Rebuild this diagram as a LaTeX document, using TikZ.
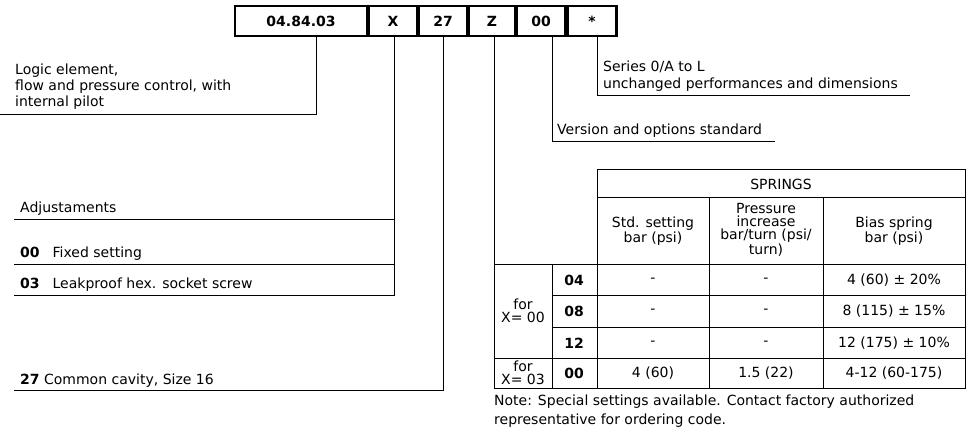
\documentclass[tikz,border=0pt]{standalone}
\usepackage{fontspec}
\setmainfont{DejaVu Sans}
\begin{document}
\begin{tikzpicture}[x=1pt,y=-1pt,
  txt/.style={anchor=base west,inner sep=0pt,font=\fontsize{14}{16}\selectfont},
  ctr/.style={inner sep=0pt,align=center,font=\fontsize{14}{13}\selectfont},
  codebox/.style={draw,line width=2.4pt,inner sep=0pt,font=\fontsize{14}{16}\selectfont\bfseries},
  lead/.style={line width=0.8pt},
  grid/.style={line width=0.8pt}]
\useasboundingbox (0,0) rectangle (977,438);
% code boxes
\node[codebox,minimum width=132pt,minimum height=30pt] (b1) at (301,21) {04.84.03};
\node[codebox,minimum width=48pt,minimum height=30pt] (b2) at (393,21) {X};
\node[codebox,minimum width=48pt,minimum height=30pt] (b3) at (443,21) {27};
\node[codebox,minimum width=46pt,minimum height=30pt] (b4) at (492,21) {Z};
\node[codebox,minimum width=48pt,minimum height=30pt] (b5) at (541,21) {00};
\node[codebox,minimum width=49pt,minimum height=30pt] (b6) at (592,21) {*};
% labels
\node[txt] (t1) at (15,75) {Logic element,};
\node[txt] at (15,91) {flow and pressure control, with};
\node[txt] at (15,107) {internal pilot};
\node[txt] (t2) at (603,72) {Series 0/A to L};
\node[txt] at (603,89) {unchanged performances and dimensions};
\node[txt] (t3) at (557,135) {Version and options standard};
\node[txt] (t4) at (20,213) {Adjustaments};
\node[txt] (t5) at (20,258) {\textbf{00}\hspace{13pt}Fixed setting};
\node[txt] (t6) at (20,289) {\textbf{03}\hspace{13pt}Leakproof hex. socket screw};
\node[txt] (t7) at (20,384) {\textbf{27} Common cavity, Size 16};
\node[txt] (t8) at (494,405) {Note: Special settings available. Contact factory authorized};
\node[txt] at (494,424) {representative for ordering code.};
% leaders
\coordinate (c1) at (316,36); \coordinate (c2) at (394,36); \coordinate (c3) at (443,36);
\coordinate (c4) at (494,36); \coordinate (c5) at (552,36); \coordinate (c6) at (597,36);
\draw[lead] (c1) |- (0,114);
\draw[lead] (c2) -- (394,295) -- (14,295);
\draw[lead] (14,219) -- (394,219);
\draw[lead] (14,264) -- (394,264);
\draw[lead] (c3) |- (14,390);
\draw[lead] (c4) -- (494,388);
\draw[lead] (c5) |- (775,141);
\draw[lead] (c6) |- (910,95);
% table
\draw[grid] (597,169) rectangle (965,388);
\draw[grid] (597,197) -- (965,197);
\draw[grid] (494,264) -- (965,264);
\draw[grid] (552,295) -- (965,295);
\draw[grid] (552,327) -- (965,327);
\draw[grid] (494,358) -- (965,358);
\draw[grid] (494,388) -- (597,388);
\draw[grid] (552,264) -- (552,388);
\draw[grid] (709,197) -- (709,388);
\draw[grid] (823,197) -- (823,388);
\node[ctr] (h0) at (781,184) {SPRINGS};
\node[ctr] (h1) at (653,231) {Std. setting\\bar (psi)};
\node[ctr] (h2) at (766,230) {Pressure\\increase\\bar/turn (psi/\\turn)};
\node[ctr] (h3) at (894,231) {Bias spring\\bar (psi)};
\node[ctr] (f1) at (523,311) {for\\X= 00};
\node[ctr] (f2) at (523,373) {for\\X= 03};
\node[ctr,font=\fontsize{14}{16}\selectfont\bfseries] at (574,280) {04};
\node[ctr,font=\fontsize{14}{16}\selectfont\bfseries] at (574,311) {08};
\node[ctr,font=\fontsize{14}{16}\selectfont\bfseries] at (574,343) {12};
\node[ctr,font=\fontsize{14}{16}\selectfont\bfseries] at (574,373) {00};
\foreach \y in {280,311,343} {\node[ctr] at (653,\y) {-}; \node[ctr] at (766,\y) {-};}
\node[ctr] at (894,280) {4 (60) ± 20\%};
\node[ctr] at (894,311) {8 (115) ± 15\%};
\node[ctr] at (894,343) {12 (175) ± 10\%};
\node[ctr] at (653,373) {4 (60)};
\node[ctr] at (766,373) {1.5 (22)};
\node[ctr] at (894,373) {4-12 (60-175)};
\end{tikzpicture}
\end{document}
